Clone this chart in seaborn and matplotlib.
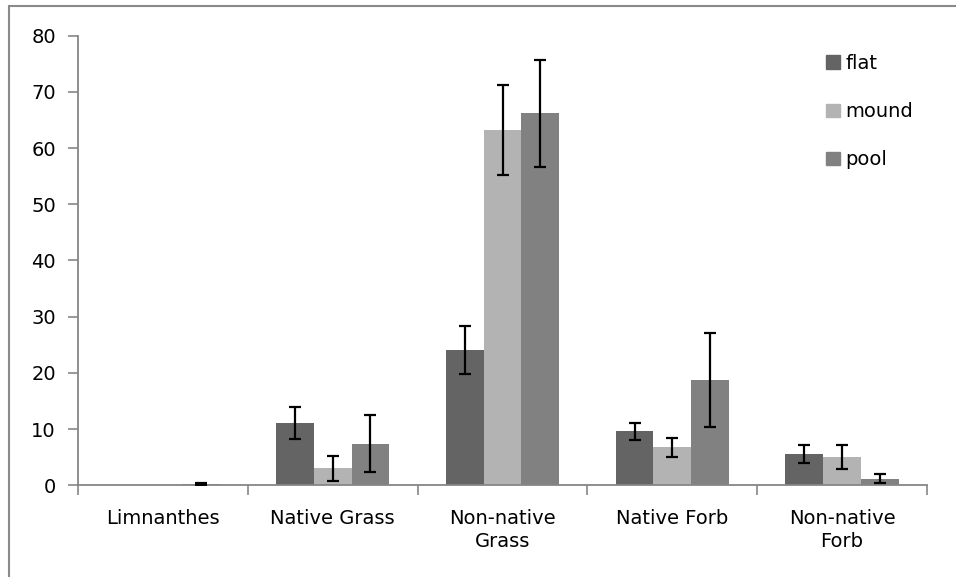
import matplotlib
matplotlib.use("Agg")
import matplotlib.pyplot as plt
import seaborn as sns
import pandas as pd
import numpy as np
from matplotlib.lines import Line2D

# Mean cover (%) by plant group and microtopography, with standard errors
categories = ["Limnanthes", "Native Grass", "Non-native\nGrass", "Native Forb", "Non-native\nForb"]
positions = ["flat", "mound", "pool"]
flat_mean = [0.1, 11.1, 24.1, 9.6, 5.6]
mound_mean = [0.1, 3.0, 63.2, 6.8, 5.0]
pool_mean = [0.2, 7.4, 66.2, 18.7, 1.2]
flat_err = [0.0, 2.8, 4.3, 1.5, 1.6]
mound_err = [0.0, 2.3, 8.0, 1.7, 2.1]
pool_err = [0.15, 5.1, 9.5, 8.4, 0.75]

colors = {"flat": "#646464", "mound": "#b3b3b3", "pool": "#818181"}

rows = []
for pos, means, errs in zip(positions, [flat_mean, mound_mean, pool_mean],
                            [flat_err, mound_err, pool_err]):
    for cat, m, e in zip(categories, means, errs):
        rows.append({"group": cat, "position": pos, "cover": m, "se": e})
df = pd.DataFrame(rows)

sns.set_theme(style="white")
plt.rcParams["font.family"] = ["DejaVu Sans"]
plt.rcParams["text.color"] = "black"
plt.rcParams["xtick.color"] = "black"
plt.rcParams["ytick.color"] = "black"

fig = plt.figure(figsize=(9.56, 5.77), dpi=100)
ax = fig.add_axes([78 / 956, 1 - 485.3 / 577, (927 - 78) / 956, (485.3 - 35.7) / 577])

sns.barplot(data=df, x="group", y="cover", hue="position", order=categories,
            hue_order=positions, palette=colors, width=0.667, errorbar=None,
            saturation=1, linewidth=0, ax=ax, legend=False)

# Error bars centred on each bar (skipped where no error was recorded)
for pos, container in zip(positions, ax.containers):
    sub = df[df["position"] == pos].set_index("group").loc[categories]
    xs = np.array([p.get_x() + p.get_width() / 2 for p in container.patches])
    keep = sub["se"].values > 0
    ax.errorbar(xs[keep], sub["cover"].values[keep], yerr=sub["se"].values[keep],
                fmt="none", ecolor="black", elinewidth=1.6, capsize=4.5,
                capthick=1.6, zorder=5)

ax.set_ylim(0, 80)
ax.set_xlim(-0.5, len(categories) - 0.5)
ax.set_yticks(np.arange(0, 81, 10))
ax.set_xlabel("")
ax.set_ylabel("")

# Ticks at category boundaries, labels at category centres
ax.set_xticks(np.arange(-0.5, len(categories), 1.0))
ax.set_xticklabels([])
ax.set_xticks(np.arange(len(categories)), minor=True)
ax.set_xticklabels(categories, minor=True, fontsize=14, color="black",
                   linespacing=1.3)
ax.tick_params(axis="x", which="major", direction="out", length=7, width=1.2,
               color="#868686", bottom=True)
ax.tick_params(axis="x", which="minor", length=0, pad=17, labelcolor="black")
ax.tick_params(axis="y", direction="out", length=7, width=1.2, color="#868686",
               left=True, labelsize=14, labelcolor="black", pad=9)

for side in ["top", "right"]:
    ax.spines[side].set_visible(False)
for side in ["left", "bottom"]:
    ax.spines[side].set_color("#868686")
    ax.spines[side].set_linewidth(1.3)

handles = [plt.Rectangle((0, 0), 1, 1, color=colors[p]) for p in positions]
leg = ax.legend(handles, positions, loc="upper left",
                bbox_to_anchor=(826 / 956, 1 - 54 / 577),
                bbox_transform=fig.transFigure, frameon=False, fontsize=14,
                handlelength=0.7, handleheight=0.7, handletextpad=0.3,
                labelspacing=1.5, borderaxespad=0, borderpad=0)
for t in leg.get_texts():
    t.set_color("black")

# Chart-area frame
fig.add_artist(Line2D([9 / 956, 9 / 956], [0, 1 - 6 / 577], transform=fig.transFigure,
                      color="#8a8a8a", lw=1.5))
fig.add_artist(Line2D([9 / 956, 1], [1 - 6 / 577, 1 - 6 / 577], transform=fig.transFigure,
                      color="#8a8a8a", lw=1.5))

fig.savefig("out.png", dpi=100)
